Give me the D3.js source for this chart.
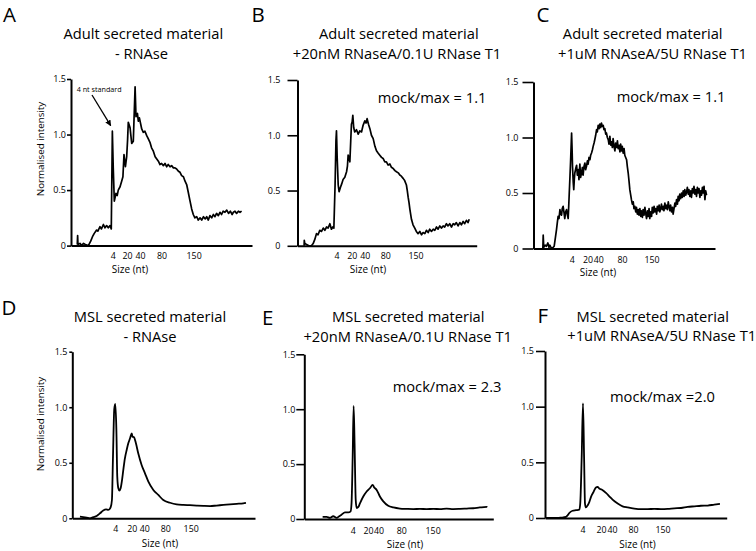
<!DOCTYPE html>
<html><head><meta charset="utf-8">
<script src="https://cdn.jsdelivr.net/npm/d3@7"></script>
<style>
body{margin:0;background:#fff}
svg{display:block}
text{font-family:'Open Sans',sans-serif;fill:#000}
</style>
</head><body>
<svg id="c" width="756" height="551"></svg>
<script>
// ---------- DATA ----------
const panelLetters = ["A","B","C","D","E","F"];
const titleLine1 = ["Adult secreted material","Adult secreted material","Adult secreted material",
                    "MSL secreted material","MSL secreted material","MSL secreted material"];
const titleLine2 = ["- RNAse","+20nM RNaseA/0.1U RNase T1","+1uM RNAseA/5U RNase T1",
                    "- RNAse","+20nM RNaseA/0.1U RNase T1","+1uM RNAseA/5U RNase T1"];
const mockMaxLabels = [null,"mock/max = 1.1","mock/max = 1.1",null,"mock/max = 2.3","mock/max =2.0"];
const yTickValues = [0,0.5,1.0,1.5];
const yTickLabels = ["0","0.5","1.0","1.5"];
const sizeLabels = ["4","20","40","80","150"];
// migration position (relative units) of each size-marker label, per panel
const tickPosA = [23.3,31.3,38.5,50.6,68.5];
const tickPosB = [22.4,31.2,38.7,50.4,67.8];
const tickPosC = [21.3,30.1,36.0,49.2,65.7];
const tickPosD = [24.2,33.4,40.5,52.3,66.6];
const tickPosE = [25.7,33.7,39.3,51.3,67.9];
const tickPosF = [20.6,30.7,36.7,48.2,64.4];

// traces: [migration position, normalised intensity]
const traceA = [[3.5,0.01],[3.7,0.09],[3.9,0.01],[5,0.02],[6,0.0],[7,0.02],[8,0.01],[9.7,0.0],[11,0.04],[12,0.08],[13,0.11],[14.3,0.14],[15,0.13],[16.2,0.17],[17,0.15],[18.1,0.19],[19,0.16],[19.9,0.18],[20.8,0.16],[21.8,0.18],[22.5,0.15],[23.1,1.03],[23.6,0.7],[24.2,0.40],[25.1,0.47],[25.8,0.45],[26.4,0.50],[27.4,0.53],[28.3,0.58],[29,0.62],[29.6,0.82],[30.4,0.71],[31.1,0.80],[31.6,0.95],[32.0,1.11],[33.0,1.06],[33.9,0.92],[34.8,0.94],[35.8,1.43],[36.3,1.16],[37.1,1.19],[37.6,1.12],[38.2,1.15],[39.5,1.05],[40.4,1.02],[41.3,1.03],[42.3,0.99],[43.2,0.96],[44.1,0.93],[45,0.88],[46.0,0.85],[47,0.80],[47.9,0.78],[48.8,0.76],[49.7,0.73],[50.6,0.74],[51.6,0.72],[52.5,0.74],[53.4,0.71],[54.3,0.73],[55.3,0.71],[56.2,0.72],[57.2,0.70],[58.1,0.70],[59.0,0.69],[60,0.67],[60.9,0.66],[61.8,0.63],[62.8,0.62],[63.7,0.58],[64.6,0.55],[65.5,0.48],[66.5,0.40],[67.4,0.33],[68.3,0.28],[69.2,0.25],[70.2,0.26],[71.1,0.23],[72.1,0.25],[73,0.23],[74,0.26],[75,0.24],[75.8,0.26],[76.7,0.23],[77.6,0.27],[78.6,0.25],[79.5,0.28],[80.4,0.26],[81.3,0.29],[82.3,0.27],[83.2,0.30],[84.1,0.28],[85,0.31],[86,0.30],[87,0.32],[88,0.29],[89,0.31],[90,0.28],[90.7,0.30],[91.6,0.31],[92.5,0.29],[93.5,0.31],[94.4,0.30],[95.3,0.31]];
const traceB = [[3.8,0.0],[3.9,0.05],[4.2,0.02],[5.5,0.01],[6.5,0.0],[8,0.0],[9,0.02],[10,0.06],[10.9,0.11],[11.8,0.10],[12.8,0.14],[13.8,0.13],[14.8,0.16],[15.7,0.14],[16.7,0.17],[17.6,0.16],[18.6,0.20],[19.5,0.15],[20.3,0.17],[20.9,0.16],[21.6,0.55],[22.1,0.95],[22.4,1.04],[22.8,0.8],[23.4,0.55],[23.9,0.49],[24.7,0.53],[25.4,0.56],[26.2,0.60],[27.2,0.62],[28.2,0.67],[28.7,0.72],[29.1,0.82],[29.6,0.80],[30.1,0.76],[30.6,0.95],[31.0,1.10],[31.4,1.12],[31.8,1.18],[32.3,1.07],[32.9,1.03],[33.9,1.05],[34.9,1.01],[35.8,1.04],[36.8,1.03],[37.7,1.09],[38.7,1.13],[39.4,1.11],[40.0,1.15],[40.8,1.10],[41.6,1.06],[42.5,1.00],[43.5,0.97],[44.5,0.90],[45.4,0.86],[46.3,0.84],[47.3,0.82],[48.3,0.80],[49.2,0.79],[50.2,0.76],[51.1,0.76],[52.1,0.73],[53.1,0.74],[54,0.71],[55,0.70],[56,0.68],[56.9,0.67],[57.9,0.66],[58.8,0.64],[59.7,0.63],[60.7,0.61],[61.6,0.59],[62.6,0.55],[63.1,0.50],[63.6,0.44],[64.1,0.39],[64.6,0.33],[65.5,0.24],[66.4,0.19],[67.4,0.16],[68.3,0.13],[69.3,0.11],[70.3,0.13],[71.3,0.10],[72.2,0.12],[73.2,0.11],[74.1,0.14],[75.1,0.12],[76,0.15],[77,0.13],[78,0.15],[78.9,0.14],[79.9,0.17],[80.8,0.15],[81.8,0.18],[82.7,0.16],[83.7,0.18],[84.6,0.17],[85.6,0.20],[86.5,0.18],[87.5,0.20],[88.5,0.17],[89.5,0.20],[90.4,0.19],[91.3,0.21],[92.3,0.18],[93.3,0.21],[94.2,0.19],[95.2,0.22],[96.1,0.20],[97.1,0.23],[98,0.21],[98.7,0.24]];
const traceC = [[5.2,0.0],[5.4,0.12],[5.7,0.01],[6.5,0.03],[7.2,0.02],[8,0.05],[8.6,0.01],[9.1,0.03],[10,0.0],[10.9,0.01],[11.5,0.02],[12.2,0.10],[12.8,0.17],[13.3,0.24],[13.7,0.29],[14.2,0.27],[14.7,0.35],[15.1,0.31],[15.6,0.30],[16.0,0.36],[16.5,0.38],[17,0.32],[17.4,0.27],[17.9,0.33],[18.4,0.35],[18.9,0.30],[19.3,0.27],[19.6,0.38],[19.9,0.50],[20.3,0.65],[20.6,0.77],[21.0,0.95],[21.2,1.04],[21.5,0.88],[21.7,0.74],[22.1,0.60],[22.4,0.53],[22.7,0.62],[23.0,0.68],[23.5,0.72],[24.0,0.75],[24.4,0.66],[24.9,0.71],[25.3,0.62],[25.8,0.76],[26.2,0.64],[26.7,0.68],[27.2,0.73],[27.6,0.66],[28.1,0.74],[28.6,0.77],[29.0,0.71],[29.5,0.74],[30.0,0.79],[30.4,0.76],[30.9,0.82],[31.4,0.80],[31.8,0.84],[32.3,0.86],[32.8,0.89],[33.2,0.92],[33.7,0.95],[34.1,0.98],[34.6,1.02],[35.1,1.07],[35.5,1.05],[36.0,1.11],[36.5,1.08],[36.9,1.12],[37.4,1.09],[37.8,1.13],[38.3,1.10],[38.8,1.11],[39.2,1.07],[39.7,1.08],[40.2,1.03],[40.6,1.04],[41.1,1.00],[41.6,0.98],[42.0,0.94],[42.5,1.01],[43.0,0.93],[43.4,0.96],[43.9,0.91],[44.3,0.99],[44.8,0.92],[45.3,0.88],[45.7,0.95],[46.2,0.91],[46.7,0.97],[47.1,0.90],[47.6,0.93],[48.1,0.87],[48.5,0.94],[49.0,0.88],[49.4,0.92],[49.9,0.86],[50.4,0.90],[50.8,0.84],[51.3,0.82],[51.8,0.80],[52.2,0.74],[52.7,0.68],[53.2,0.60],[53.6,0.53],[54.1,0.48],[54.5,0.44],[55.0,0.40],[55.5,0.42],[55.9,0.36],[56.4,0.38],[56.9,0.33],[57.3,0.37],[57.8,0.31],[58.3,0.35],[58.7,0.30],[59.2,0.36],[59.7,0.29],[60.1,0.34],[60.6,0.28],[61.0,0.35],[61.5,0.30],[62.0,0.37],[62.4,0.32],[62.9,0.27],[63.4,0.34],[63.8,0.29],[64.3,0.36],[64.7,0.27],[65.2,0.33],[65.7,0.29],[66.1,0.37],[66.6,0.32],[67.1,0.38],[67.5,0.33],[68.0,0.36],[68.5,0.31],[68.9,0.38],[69.4,0.34],[69.9,0.39],[70.3,0.33],[70.8,0.36],[71.2,0.40],[71.7,0.35],[72.2,0.38],[72.6,0.34],[73.1,0.41],[73.6,0.36],[74.0,0.39],[74.5,0.35],[75.0,0.42],[75.4,0.38],[75.9,0.34],[76.3,0.39],[76.8,0.33],[77.3,0.37],[77.7,0.31],[78.2,0.36],[78.7,0.41],[79.1,0.38],[79.6,0.44],[80.1,0.40],[80.5,0.47],[81.0,0.43],[81.4,0.49],[81.9,0.45],[82.4,0.50],[82.8,0.46],[83.3,0.52],[83.8,0.47],[84.2,0.53],[84.7,0.48],[85.2,0.51],[85.6,0.55],[86.1,0.49],[86.5,0.53],[87.0,0.47],[87.5,0.52],[87.9,0.46],[88.4,0.54],[88.9,0.50],[89.3,0.56],[89.8,0.49],[90.3,0.53],[90.7,0.47],[91.2,0.55],[91.6,0.50],[92.1,0.54],[92.6,0.46],[93.0,0.52],[93.5,0.48],[94.0,0.55],[94.4,0.50],[94.9,0.56],[95.4,0.44],[95.8,0.52],[96.3,0.48]];
const traceD = [[4.3,0.015],[6.2,0.01],[8.1,0.005],[9.9,0.0],[11.8,0.01],[13.7,0.02],[15.6,0.045],[17.4,0.07],[19.0,0.08],[20.3,0.075],[21.6,0.10],[22.3,0.165],[22.9,0.56],[23.6,0.98],[24.2,1.03],[24.8,0.80],[25.3,0.375],[25.9,0.27],[26.5,0.25],[27.2,0.27],[28.0,0.345],[28.7,0.435],[29.6,0.54],[30.6,0.615],[31.5,0.675],[32.5,0.72],[33.4,0.765],[33.9,0.735],[34.7,0.73],[35.8,0.675],[37.1,0.585],[39.0,0.48],[40.9,0.405],[42.8,0.33],[45.6,0.255],[48.4,0.21],[51.2,0.165],[55.0,0.14],[58.7,0.125],[62.5,0.12],[66.2,0.118],[70.0,0.115],[73.7,0.112],[77.5,0.11],[81.2,0.115],[85.0,0.12],[88.7,0.125],[92.5,0.13],[96.2,0.135],[97.7,0.14]];
const traceE = [[9.7,0.02],[11.8,0.02],[13.6,0.01],[15.3,0.025],[17.1,0.01],[18.5,0.025],[19.8,0.04],[21.5,0.06],[23.3,0.06],[24.5,0.07],[25.0,0.145],[25.6,0.57],[26.1,1.03],[26.6,0.69],[27.2,0.175],[27.7,0.10],[28.6,0.11],[29.5,0.145],[31.2,0.205],[33.0,0.25],[34.7,0.28],[36.2,0.31],[36.9,0.29],[38.3,0.265],[40.0,0.205],[41.8,0.16],[44.4,0.12],[47.1,0.105],[50.6,0.095],[54.1,0.092],[57.7,0.09],[61.2,0.092],[64.7,0.09],[68.3,0.092],[71.8,0.09],[75.3,0.095],[78.8,0.09],[82.4,0.092],[85.9,0.095],[89.4,0.098],[92.9,0.105],[96.5,0.11],[96.8,0.107]];
const traceF = [[0.5,0.0],[3.3,0.0],[5.1,0.0],[6.9,0.0],[8.8,0.003],[11.5,0.01],[12.4,0.025],[13.3,0.045],[15.1,0.065],[17.0,0.07],[18.8,0.075],[19.3,0.13],[20.1,0.55],[20.8,1.03],[21.4,0.55],[21.9,0.13],[22.4,0.095],[23.4,0.115],[24.3,0.145],[25.2,0.19],[26.6,0.235],[27.9,0.275],[28.8,0.28],[29.7,0.265],[31.6,0.25],[33.4,0.225],[35.2,0.195],[37.0,0.165],[39.8,0.13],[42.5,0.105],[45.3,0.095],[48.9,0.085],[52.6,0.08],[56.2,0.08],[59.9,0.082],[63.5,0.08],[67.2,0.082],[70.8,0.087],[74.5,0.09],[78.1,0.10],[81.8,0.105],[85.4,0.11],[89.1,0.112],[92.7,0.12],[95.8,0.126]];

const traces = [traceA,traceB,traceC,traceD,traceE,traceF];
const tickPositions = [tickPosA,tickPosB,tickPosC,tickPosD,tickPosE,tickPosF];

// ---------- LAYOUT ----------
const layout = [
 {x0:71,   w:181,   xMax:101.1, y0:245.6, yTop:79,    tk:4,  tp:1,   xp:7.6, smooth:false,
  letter:[3,21.5], t1:[143.3,39.3], t2:[141.5,59], mock:null, size:[130,273], ylab:[40,149]},
 {x0:297.5,w:179.2, xMax:103,   y0:245.8, yTop:80,    tk:10, tp:7,   xp:7.4, smooth:false,
  letter:[251.5,21.5], t1:[398.8,39], t2:[397,59], mock:[377.7,103], size:[368,273], ylab:null},
 {x0:533.5,w:181.5, xMax:101,   y0:248.5, yTop:82,    tk:11, tp:4,   xp:8.4, smooth:false,
  letter:[536.5,21.5], t1:[642.7,39.3], t2:[652.5,59], mock:[616.7,101.7], size:[598,276], ylab:null},
 {x0:72.3, w:182.7, xMax:102.8, y0:518.3, yTop:351.7, tk:3,  tp:2,   xp:7.6, smooth:true,
  letter:[1.5,315], t1:[150,321.7], t2:[150,341.7], mock:null, size:[160,546.5], ylab:[40,424]},
 {x0:304.3,w:189,   xMax:100,   y0:519,   yTop:354.3, tk:8,  tp:1,   xp:9.0, smooth:true,
  letter:[262,325], t1:[408.3,322], t2:[407.7,341.5], mock:[392.7,391.7], size:[405,548], ylab:null},
 {x0:545,  w:181.7, xMax:99.5,  y0:518,   yTop:351,   tk:9,  tp:2,   xp:8.4, smooth:true,
  letter:[537.5,323.3], t1:[652.7,321.7], t2:[661.7,340.9], mock:[610,401.7], size:[637.5,548], ylab:null}
];

// ---------- DRAW ----------
const svg = d3.select("#c");
svg.append("defs").append("marker")
  .attr("id","arrowhead").attr("viewBox","0 0 10 10").attr("refX",9).attr("refY",5)
  .attr("markerWidth",6).attr("markerHeight",6).attr("markerUnits","userSpaceOnUse")
  .attr("orient","auto")
  .append("path").attr("d","M0,0L10,5L0,10Z").attr("fill","#000");

layout.forEach((L,i)=>{
  const g = svg.append("g");
  const x = d3.scaleLinear().domain([0,L.xMax]).range([L.x0,L.x0+L.w]);
  const y = d3.scaleLinear().domain([0,1.5]).range([L.y0,L.yTop]);

  // y axis
  const ya = g.append("g").attr("transform",`translate(${L.x0},0)`)
    .call(d3.axisLeft(y).tickValues(yTickValues).tickFormat((d,k)=>yTickLabels[k])
      .tickSize(L.tk).tickSizeOuter(0).tickPadding(L.tp));
  ya.select(".domain").attr("stroke","#000").attr("stroke-width",2);
  ya.selectAll(".tick line").attr("stroke","#000").attr("stroke-width",1.6);
  ya.selectAll("text").attr("font-family","'Open Sans',sans-serif").attr("font-size",9).attr("fill","#222");

  // x axis
  const xa = g.append("g").attr("transform",`translate(0,${L.y0})`)
    .call(d3.axisBottom(x).tickValues(tickPositions[i]).tickFormat((d,k)=>sizeLabels[k])
      .tickSize(0).tickSizeOuter(0).tickPadding(L.xp));
  xa.select(".domain").attr("stroke","#000").attr("stroke-width",2);
  xa.selectAll("text").attr("font-family","'Open Sans',sans-serif").attr("font-size",8.8).attr("fill","#222");

  // trace
  const line = d3.line().x(d=>x(d[0])).y(d=>y(d[1]))
    .curve(L.smooth ? d3.curveMonotoneX : d3.curveLinear);
  g.append("path").datum(traces[i]).attr("d",line)
    .attr("fill","none").attr("stroke","#000").attr("stroke-width",L.smooth?1.8:1.7)
    .attr("stroke-linejoin","round");

  // texts
  g.append("text").attr("x",L.letter[0]).attr("y",L.letter[1]).attr("font-size",20.5).text(panelLetters[i]);
  g.append("text").attr("x",L.t1[0]).attr("y",L.t1[1]).attr("text-anchor","middle").attr("font-size",14.7).text(titleLine1[i]);
  g.append("text").attr("x",L.t2[0]).attr("y",L.t2[1]).attr("text-anchor","middle").attr("font-size",14.7).text(titleLine2[i]);
  if (mockMaxLabels[i]) g.append("text").attr("x",L.mock[0]).attr("y",L.mock[1]).attr("font-size",14.7).text(mockMaxLabels[i]);
  g.append("text").attr("x",L.size[0]).attr("y",L.size[1]).attr("text-anchor","middle").attr("font-size",10).attr("fill","#222").text("Size (nt)");
  if (L.ylab) g.append("text").attr("transform",`translate(${L.ylab[0]},${L.ylab[1]}) rotate(-90)`)
    .attr("text-anchor","middle").attr("dominant-baseline","central").attr("font-size",9.8).attr("fill","#222")
    .text("Normalised intensity");

  // annotation on panel A
  if (i===0) {
    g.append("text").attr("x",76.7).attr("y",91.7).attr("font-size",7.2).text("4 nt standard");
    g.append("line").attr("x1",92).attr("y1",95).attr("x2",x(tickPosA[0])-2).attr("y2",y(1.08))
      .attr("stroke","#000").attr("stroke-width",1.3).attr("marker-end","url(#arrowhead)");
  }
});
</script>
</body></html>
